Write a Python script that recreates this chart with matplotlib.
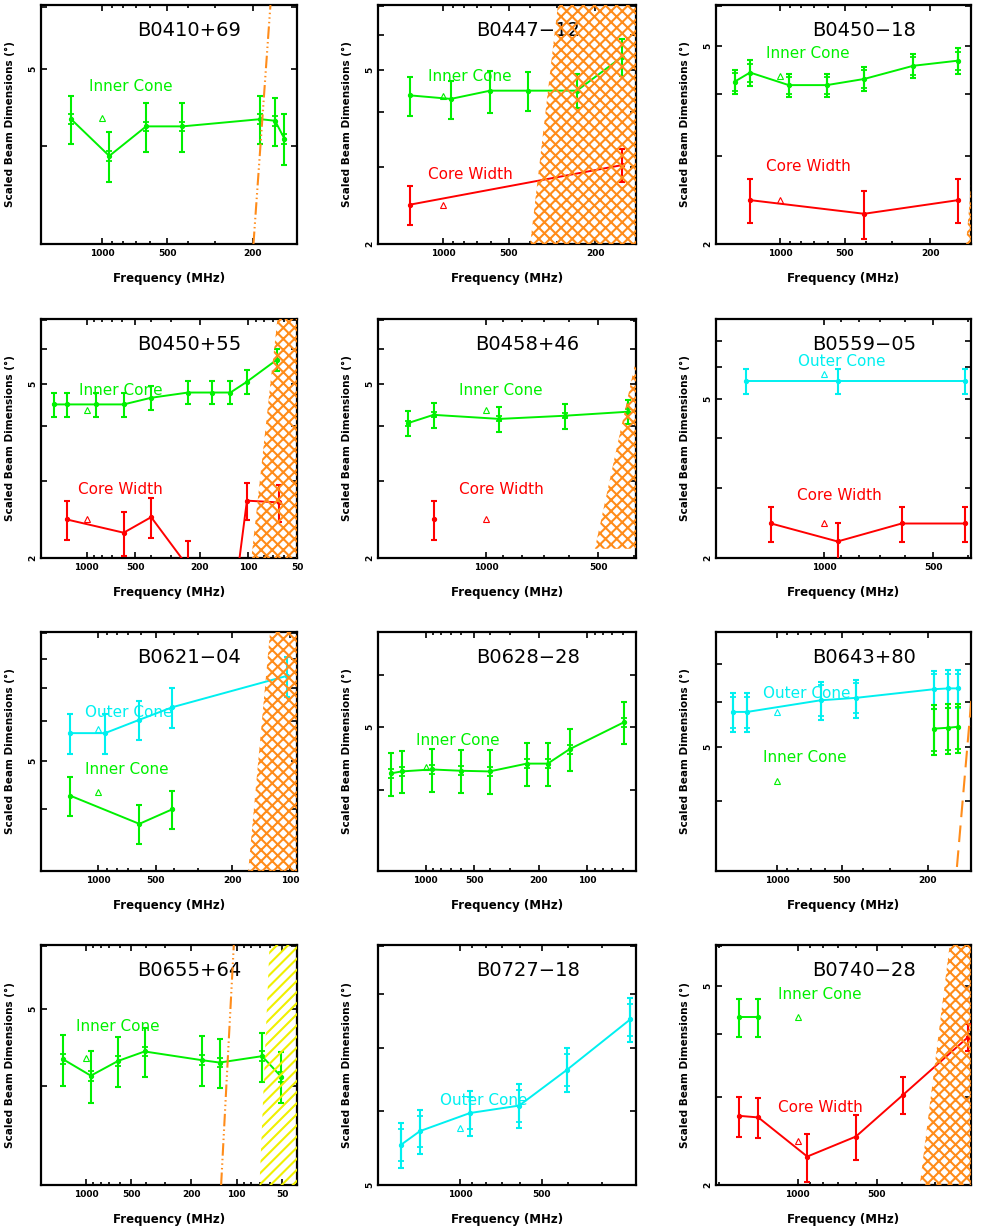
import matplotlib
matplotlib.use("Agg")
import matplotlib.pyplot as plt
from matplotlib.patches import Polygon
from matplotlib.ticker import FixedLocator, FuncFormatter, NullFormatter

plt.rcParams["font.family"] = ["DejaVu Sans"]
plt.rcParams["hatch.linewidth"] = 1.5

GREEN = "#00f000"
RED = "#ff0000"
CYAN = "#00f0f0"
ORANGE = "#ff8c1a"
YELLOW = "#f0f000"

TRI_FREQ = 1000.0

# ---------------- data (frequency MHz, scaled width deg, error) ----------------
# B0410+69
f0410_ic = [1395, 928, 626, 425, 185, 158, 143]
w0410_ic = [4.32, 3.88, 4.23, 4.23, 4.32, 4.30, 4.08]
e0410_ic = [0.30, 0.28, 0.30, 0.30, 0.30, 0.30, 0.30]
t0410_ic = 4.33
line0410_f = [199, 166]
line0410_w = [3.0, 6.03]

# B0447-12
f0447_ic = [1418, 922, 608, 408, 243, 150]
w0447_ic = [4.37, 4.29, 4.48, 4.48, 4.48, 5.36]
e0447_ic = [0.44, 0.43, 0.50, 0.46, 0.40, 0.53]
f0447_cw = [1418, 150]
w0447_cw = [2.46, 3.03]
e0447_cw = [0.25, 0.26]
t0447_ic = 4.35
t0447_cw = 2.46
hatch0447_f = [398, 297]
hatch0447_w = [2.0, 7.03]

# B0450-18
f0450m_ic = [1633, 1387, 915, 608, 407, 240, 148]
w0450m_ic = [4.24, 4.42, 4.17, 4.17, 4.29, 4.56, 4.67]
e0450m_ic = [0.24, 0.26, 0.23, 0.23, 0.24, 0.26, 0.27]
f0450m_cw = [1387, 407, 148]
w0450m_cw = [2.45, 2.30, 2.45]
e0450m_cw = [0.25, 0.25, 0.25]
t0450m_ic = 4.35
t0450m_cw = 2.45
hatch0450m_f = [136, 129]
hatch0450m_w = [2.0, 2.63]

# B0450+55
f0450p_ic = [1587, 1327, 881, 590, 399, 236, 168, 129, 102, 66.7]
w0450p_ic = [4.49, 4.49, 4.49, 4.49, 4.65, 4.78, 4.78, 4.78, 5.06, 5.68]
e0450p_ic = [0.29, 0.29, 0.29, 0.29, 0.29, 0.29, 0.29, 0.29, 0.32, 0.34]
f0450p_cw = [1327, 590, 399, 236, 129, 102, 65]
w0450p_cw = [2.45, 2.285, 2.48, 1.91, 1.38, 2.705, 2.68]
e0450p_cw = [0.25, 0.26, 0.26, 0.28, 0.26, 0.26, 0.26]
t0450p_ic = 4.36
t0450p_cw = 2.45
hatch0450p_f = [95.7, 66.1]
hatch0450p_w = [2.0, 7.04]

# B0458+46
f0458_ic = [1625, 1388, 922, 615, 416]
w0458_ic = [4.07, 4.25, 4.16, 4.23, 4.32]
e0458_ic = [0.27, 0.28, 0.27, 0.28, 0.27]
f0458_cw = [1388]
w0458_cw = [2.45]
e0458_cw = [0.25]
t0458_ic = 4.36
t0458_cw = 2.45
hatch0458_f = [510, 399]
hatch0458_w = [2.1, 5.48]

# B0559-05
f0559_oc = [1646, 919, 409]
w0559_oc = [5.55, 5.55, 5.55]
e0559_oc = [0.40, 0.40, 0.40]
f0559_cw = [1403, 919, 611, 409]
w0559_cw = [2.44, 2.20, 2.44, 2.44]
e0559_cw = [0.25, 0.25, 0.25, 0.25]
t0559_oc = 5.78
t0559_cw = 2.45

# B0621-04
f0621_oc = [1399, 919, 609, 410, 103]
w0621_oc = [5.68, 5.68, 6.04, 6.40, 7.40]
e0621_oc = [0.52, 0.52, 0.54, 0.59, 0.68]
f0621_ic = [1399, 609, 410]
w0621_ic = [4.26, 3.74, 4.00]
e0621_ic = [0.38, 0.33, 0.35]
t0621_oc = 5.79
t0621_ic = 4.34
hatch0621_f = [165, 127]
hatch0621_w = [3.01, 9.05]

# B0628-28
f0628_ic = [1638, 1406, 913, 604, 402, 237, 176, 129, 59.8]
w0628_ic = [4.24, 4.27, 4.30, 4.28, 4.27, 4.39, 4.39, 4.62, 5.08]
e0628_ic = [0.32, 0.32, 0.33, 0.33, 0.33, 0.33, 0.33, 0.35, 0.38]
t0628_ic = 4.34

# B0643+80
f0643_oc = [1610, 1378, 628, 430, 186, 160, 145]
w0643_oc = [5.76, 5.76, 6.04, 6.10, 6.32, 6.34, 6.34]
e0643_oc = [0.45, 0.45, 0.47, 0.47, 0.49, 0.49, 0.49]
f0643_ic = [186, 160, 145]
w0643_ic = [5.38, 5.40, 5.42]
e0643_ic = [0.54, 0.54, 0.54]
t0643_oc = 5.76
t0643_ic = 4.34
line0643_f = [146, 124.6]
line0643_w = [3.06, 6.16]

# B0655+64
f0655_ic = [1420, 931, 614, 409, 171, 130, 67.9, 50.8]
w0655_ic = [4.32, 4.12, 4.30, 4.42, 4.31, 4.28, 4.36, 4.11]
e0655_ic = [0.32, 0.31, 0.31, 0.31, 0.31, 0.30, 0.31, 0.30]
t0655_ic = 4.34
line0655_f = [127, 104.6]
line0655_w = [3.0, 6.02]
yhatch0655_f = [70.6, 60.6]
yhatch0655_w = [3.0, 6.02]

# B0727-18
f0727_oc = [1650, 1404, 919, 606, 404, 236]
w0727_oc = [5.52, 5.71, 5.97, 6.08, 6.64, 7.52]
e0727_oc = [0.30, 0.31, 0.33, 0.33, 0.36, 0.41]
t0727_oc = 5.76

# B0740-28
f0740_ic = [1672, 1415]
w0740_ic = [4.34, 4.34]
e0740_ic = [0.38, 0.38]
f0740_cw = [1672, 1415, 920, 600, 396, 224]
w0740_cw = [2.75, 2.73, 2.28, 2.50, 3.03, 3.95]
e0740_cw = [0.25, 0.25, 0.25, 0.26, 0.26, 0.25]
t0740_ic = 4.34
t0740_cw = 2.45
hatch0740_f = [342, 263]
hatch0740_w = [2.0, 6.04]

IC, OC, CW = ("Inner Cone", GREEN), ("Outer Cone", CYAN), ("Core Width", RED)

# series entries: (freq, width, err, kind, label position, inner cap fraction)
panels = [
    dict(name="B0410+69", xlim=(1924, 125), ylim=(3.0, 6.03),
         series=[(f0410_ic, w0410_ic, e0410_ic, IC, (0.35, 0.66), 0.2)],
         tri=[(t0410_ic, GREEN)], line=(line0410_f, line0410_w, "dashdot")),
    dict(name="B0447\u221212", xlim=(1991, 130), ylim=(2.0, 7.03),
         series=[(f0447_ic, w0447_ic, e0447_ic, IC, (0.357, 0.70), 0),
                 (f0447_cw, w0447_cw, e0447_cw, CW, (0.357, 0.29), 0)],
         tri=[(t0447_ic, GREEN), (t0447_cw, RED)], hatch=(hatch0447_f, hatch0447_w)),
    dict(name="B0450\u221218", xlim=(2000, 129), ylim=(2.0, 6.04),
         series=[(f0450m_ic, w0450m_ic, e0450m_ic, IC, (0.361, 0.795), 0.72),
                 (f0450m_cw, w0450m_cw, e0450m_cw, CW, (0.361, 0.323), 0)],
         tri=[(t0450m_ic, GREEN), (t0450m_cw, RED)], hatch=(hatch0450m_f, hatch0450m_w)),
    dict(name="B0450+55", xlim=(1915, 50), ylim=(2.0, 7.04),
         series=[(f0450p_ic, w0450p_ic, e0450p_ic, IC, (0.31, 0.70), 0),
                 (f0450p_cw, w0450p_cw, e0450p_cw, CW, (0.31, 0.285), 0)],
         tri=[(t0450p_ic, GREEN), (t0450p_cw, RED)], hatch=(hatch0450p_f, hatch0450p_w)),
    dict(name="B0458+46", xlim=(1959, 395), ylim=(2.0, 7.04),
         series=[(f0458_ic, w0458_ic, e0458_ic, IC, (0.477, 0.70), 0.2),
                 (f0458_cw, w0458_cw, e0458_cw, CW, (0.477, 0.285), 0)],
         tri=[(t0458_ic, GREEN), (t0458_cw, RED)], hatch=(hatch0458_f, hatch0458_w)),
    dict(name="B0559\u221205", xlim=(1993, 393), ylim=(2.0, 7.93),
         series=[(f0559_oc, w0559_oc, e0559_oc, OC, (0.493, 0.821), 0),
                 (f0559_cw, w0559_cw, e0559_cw, CW, (0.484, 0.261), 0)],
         tri=[(t0559_oc, CYAN), (t0559_cw, RED)]),
    dict(name="B0621\u221204", xlim=(1981, 91.9), ylim=(3.01, 9.05),
         series=[(f0621_oc, w0621_oc, e0621_oc, OC, (0.341, 0.662), 0),
                 (f0621_ic, w0621_ic, e0621_ic, IC, (0.335, 0.423), 0)],
         tri=[(t0621_oc, CYAN), (t0621_ic, GREEN)], hatch=(hatch0621_f, hatch0621_w)),
    dict(name="B0628\u221228", xlim=(1966, 50.1), ylim=(3.0, 7.0),
         series=[(f0628_ic, w0628_ic, e0628_ic, IC, (0.309, 0.545), 0.2)],
         tri=[(t0628_ic, GREEN)]),
    dict(name="B0643+80", xlim=(1925, 125.6), ylim=(3.01, 7.98),
         series=[(f0643_oc, w0643_oc, e0643_oc, OC, (0.356, 0.744), 0.8),
                 (f0643_ic, w0643_ic, e0643_ic, IC, (0.349, 0.473), 0.85)],
         tri=[(t0643_oc, CYAN), (t0643_ic, GREEN)], line=(line0643_f, line0643_w, "dashed")),
    dict(name="B0655+64", xlim=(1995, 39.8), ylim=(3.0, 6.02),
         series=[(f0655_ic, w0655_ic, e0655_ic, IC, (0.301, 0.66), 0.2)],
         tri=[(t0655_ic, GREEN)], line=(line0655_f, line0655_w, "dashdot"),
         yhatch=(yhatch0655_f, yhatch0655_w)),
    dict(name="B0727\u221218", xlim=(2004, 225), ylim=(5.0, 9.03),
         series=[(f0727_oc, w0727_oc, e0727_oc, OC, (0.411, 0.354), 0.72)],
         tri=[(t0727_oc, CYAN)]),
    dict(name="B0740\u221228", xlim=(2053, 218), ylim=(2.0, 6.04),
         series=[(f0740_ic, w0740_ic, e0740_ic, IC, (0.408, 0.792), 0),
                 (f0740_cw, w0740_cw, e0740_cw, CW, (0.408, 0.324), 0)],
         tri=[(t0740_ic, GREEN), (t0740_cw, RED)], hatch=(hatch0740_f, hatch0740_w)),
]

# ---------------- layout (pixels of the 981x1226 canvas) ----------------
W, H = 981, 1226
col_left = [41, 378, 716]
col_right = [297, 636, 971]
row_top = [5, 319, 632, 945]
row_bot = [244, 558, 871, 1185]

X_MAJOR = [50, 100, 200, 500, 1000]
X_MINOR = [m * 10 ** k for k in (1, 2, 3) for m in range(2, 10) if m * 10 ** k not in X_MAJOR]
Y_TICKS = [2, 3, 4, 5, 6, 7, 8, 9]


def add_hatch(ax, hf, hw, pattern, color):
    fr = ax.get_xlim()[1]
    verts = [(hf[0], hw[0]), (hf[1], hw[1]), (fr, hw[1]), (fr, hw[0])]
    ax.add_patch(Polygon(verts, closed=True, fill=False, hatch=pattern,
                         edgecolor=color, linewidth=0, zorder=4))


fig = plt.figure(figsize=(W / 100, H / 100), dpi=100)

for i, p in enumerate(panels):
    r, c = divmod(i, 3)
    x0, x1 = col_left[c], col_right[c]
    y0, y1 = row_top[r], row_bot[r]
    ax = fig.add_axes([x0 / W, 1 - y1 / H, (x1 - x0) / W, (y1 - y0) / H])
    ax.set_xscale("log")
    ax.set_yscale("log")
    ax.set_xlim(p["xlim"])
    ax.set_ylim(p["ylim"])

    for f, w, e, (label, col), (tx, ty), k in p["series"]:
        ax.errorbar(f, w, yerr=e, color=col, lw=1.4, marker="o", ms=2.8,
                    elinewidth=1.5, capsize=2.3, capthick=1.5, zorder=3)
        if k:
            ax.errorbar(f, w, yerr=[v * k for v in e], color=col, ls="none",
                        elinewidth=1.5, capsize=2.0, capthick=1.3, zorder=3)
        ax.text(tx, ty, label, transform=ax.transAxes, color=col,
                ha="center", va="center", fontsize=11)
    for v, col in p["tri"]:
        ax.plot([TRI_FREQ], [v], marker="^", mfc="none", mec=col, ms=5,
                mew=0.8, ls="none", zorder=3)

    if "hatch" in p:
        add_hatch(ax, p["hatch"][0], p["hatch"][1], "xxx", ORANGE)
    if "yhatch" in p:
        add_hatch(ax, p["yhatch"][0], p["yhatch"][1], "///", YELLOW)
    if "line" in p:
        lf, lw_, style = p["line"]
        dash = (6, 1.5, 0.7, 1.5, 0.7, 1.5, 0.7, 1.5) if style == "dashdot" else (8, 4)
        ax.plot(lf, lw_, color=ORANGE, lw=1.5, dashes=dash, zorder=4)

    ax.text(0.58, 0.893, p["name"], transform=ax.transAxes, ha="center",
            va="center", fontsize=14)

    ax.xaxis.set_major_locator(FixedLocator(X_MAJOR))
    ax.xaxis.set_minor_locator(FixedLocator(X_MINOR))
    ax.xaxis.set_major_formatter(FuncFormatter(lambda v, pos: "%d" % v))
    ax.xaxis.set_minor_formatter(NullFormatter())
    ax.yaxis.set_major_locator(FixedLocator(Y_TICKS))
    ax.yaxis.set_minor_locator(FixedLocator([]))
    ax.yaxis.set_major_formatter(FuncFormatter(lambda v, pos: "%g" % v if v in (2, 5) else ""))

    ax.tick_params(which="both", direction="in", top=True, right=True, width=1.2)
    ax.tick_params(which="major", length=4.5)
    ax.tick_params(which="minor", length=2.5)
    ax.tick_params(axis="x", labelsize=6.5, pad=3.5)
    ax.tick_params(axis="y", labelsize=6.5, pad=2.5, labelrotation=90)
    for t in ax.get_xticklabels() + ax.get_yticklabels():
        t.set_fontweight("bold")
    for t in ax.get_yticklabels():
        t.set_va("center")

    for s in ax.spines.values():
        s.set_linewidth(1.6)

    xl = ax.set_xlabel("Frequency (MHz)", fontsize=8.5, fontweight="bold")
    ax.xaxis.set_label_coords(0.5, -0.143)
    xl.set_va("center")
    yl = ax.set_ylabel("Scaled Beam Dimensions (\u00b0)", fontsize=7.5, fontweight="bold")
    ax.yaxis.set_label_coords(-0.12, 0.5)
    yl.set_va("center")

fig.savefig("out.png", dpi=100)
